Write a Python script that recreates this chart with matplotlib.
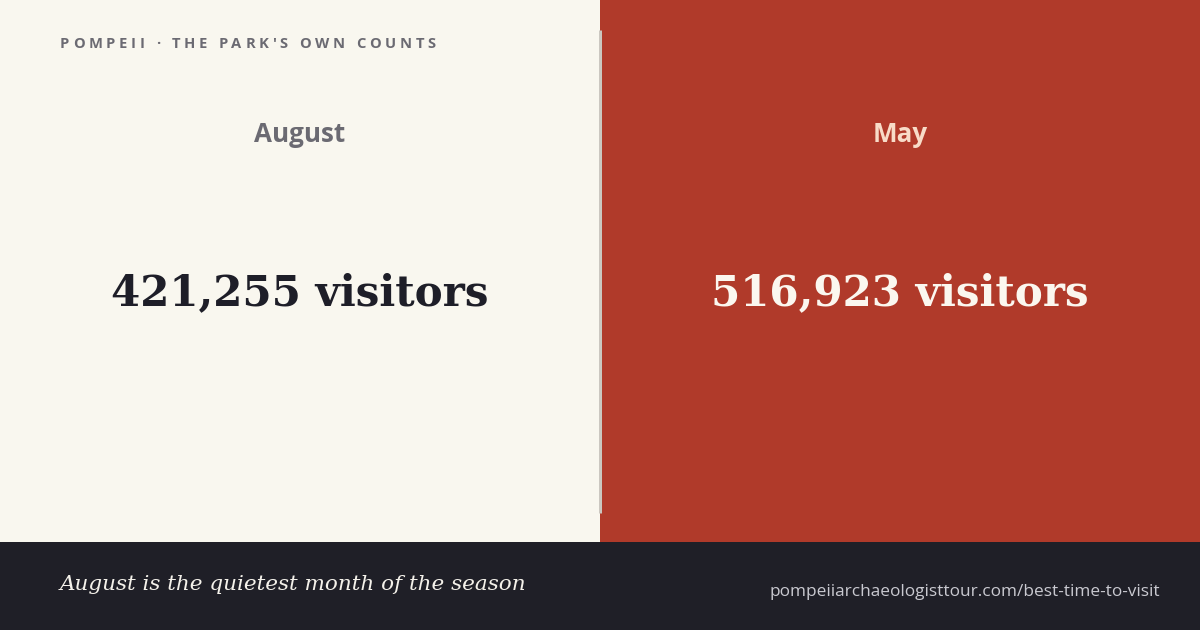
import matplotlib
matplotlib.use("Agg")
import matplotlib.pyplot as plt
from matplotlib.patches import Rectangle

# Data
months = ["August", "May"]
visitors = [421255, 516923]
kicker = "POMPEII · THE PARK'S OWN COUNTS"
caption = "August is the quietest month of the season"
source = "pompeiiarchaeologisttour.com/best-time-to-visit"

W, H = 1200, 630
PT = 72 / 100  # px -> pt at dpi 100

fig = plt.figure(figsize=(W / 100, H / 100), dpi=100)
ax = fig.add_axes([0, 0, 1, 1])
ax.set_xlim(0, W)
ax.set_ylim(H, 0)
ax.axis("off")

panel_bg = ["#f9f7ef", "#b03a2a"]
label_col = ["#6b6a72", "#f8dcc8"]
value_col = ["#1e1e28", "#fbf7ef"]

for i, (m, v) in enumerate(zip(months, visitors)):
    x0 = i * 600
    ax.add_patch(Rectangle((x0, 0), 600, 542, color=panel_bg[i], lw=0, zorder=0))
    ax.text(x0 + 300, 135, m, ha="center", va="center", color=label_col[i],
            fontsize=26 * PT, fontweight="bold", family="Open Sans")
    ax.text(x0 + 300, 293, f"{v:,} visitors", ha="center", va="center",
            color=value_col[i], fontsize=42 * PT, fontweight="bold",
            family="DejaVu Serif")

# divider
ax.plot([599.5, 599.5], [30, 513], color="#cbc7c0", lw=3 * PT, zorder=2,
        solid_capstyle="butt")

# footer band
ax.add_patch(Rectangle((0, 542), W, H - 542, color="#1f1f27", lw=0, zorder=0))
ax.text(60, 585, caption, ha="left", va="center", color="#f4f1ea",
        fontsize=21.5 * PT, style="italic", family="DejaVu Serif")
ax.text(1160, 592, source, ha="right", va="center", color="#c9c9d0",
        fontsize=17.2 * PT, family="Open Sans")

# letter-spaced kicker
fig.canvas.draw()
r = fig.canvas.get_renderer()
x = 60
for ch in kicker:
    t = ax.text(x, 44, ch, ha="left", va="center", color="#6b6a72",
                fontsize=14.8 * PT, fontweight="bold", family="Open Sans")
    w = t.get_window_extent(renderer=r).width if ch not in " ·" else 4.0
    x += w + 3.7

fig.savefig("out.png", dpi=100, facecolor=panel_bg[0])
